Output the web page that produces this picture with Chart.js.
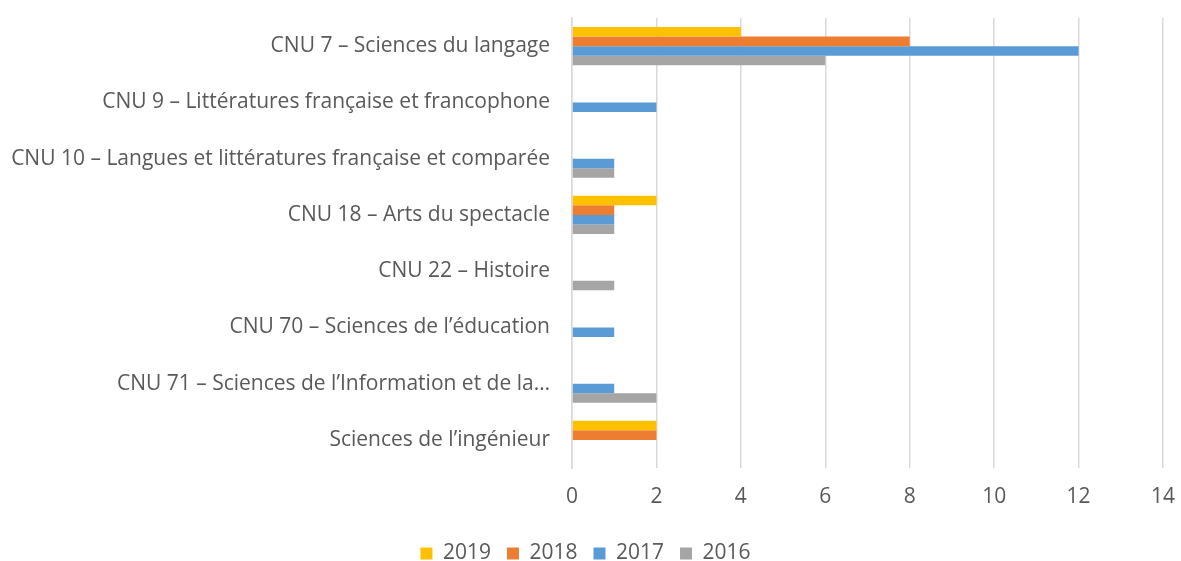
<!DOCTYPE html>
<html>
<head>
<meta charset="utf-8">
<script src="https://cdn.jsdelivr.net/npm/chart.js@4"></script>
<style>
html,body{margin:0;padding:0;background:#fff;}
#wrap{width:1181px;height:561px;position:relative;}
</style>
</head>
<body>
<div id="wrap"><canvas id="c" width="1181" height="561"></canvas></div>
<script>
const categories = [
  "CNU 7 – Sciences du langage",
  "CNU 9 – Littératures française et francophone",
  "CNU 10 – Langues et littératures française et comparée",
  "CNU 18 – Arts du spectacle",
  "CNU 22 – Histoire",
  "CNU 70 – Sciences de l’éducation",
  "CNU 71 – Sciences de l’Information et de la…",
  "Sciences de l’ingénieur"
];
const values2019 = [4, 0, 0, 2, 0, 0, 0, 2];
const values2018 = [8, 0, 0, 1, 0, 0, 0, 2];
const values2017 = [12, 2, 1, 1, 0, 1, 1, 0];
const values2016 = [6, 0, 1, 1, 1, 0, 2, 0];
const seriesNames = ["2019", "2018", "2017", "2016"];
const xTicks = [0, 2, 4, 6, 8, 10, 12, 14];

const colors = ["#FFC000", "#ED7D31", "#5B9BD5", "#A5A5A5"];
const FONT = "'Open Sans', sans-serif";
const FS = 21;
const TXT = "#595959";

new Chart(document.getElementById('c'), {
  type: 'bar',
  data: {
    labels: categories,
    datasets: [values2019, values2018, values2017, values2016].map((v, i) => ({
      label: seriesNames[i],
      data: v,
      backgroundColor: colors[i],
      borderWidth: 0,
      categoryPercentage: 0.68,
      barPercentage: 1.0
    }))
  },
  options: {
    indexAxis: 'y',
    responsive: false,
    animation: false,
    layout: { padding: { left: 8, right: 18, top: 18, bottom: 0 } },
    plugins: {
      tooltip: { enabled: false },
      legend: {
        position: 'bottom',
        maxHeight: 34,
        labels: {
          color: TXT,
          font: { family: FONT, size: FS },
          boxWidth: 12,
          boxHeight: 12,
          padding: 16
        }
      }
    },
    scales: {
      x: {
        min: 0, max: 14,
        afterBuildTicks: (s) => { s.ticks = xTicks.map(v => ({ value: v })); },
        grid: { color: "#D9D9D9", lineWidth: 1.5, drawTicks: true, tickLength: 16, tickColor: 'rgba(0,0,0,0)' },
        border: { display: false },
        ticks: { color: TXT, font: { family: FONT, size: FS }, padding: 0 },
        afterFit: (s) => { s.height = 59; }
      },
      y: {
        grid: { display: true, drawOnChartArea: false, drawTicks: true, tickLength: 22, tickColor: 'rgba(0,0,0,0)' },
        border: { display: true, color: "#D9D9D9", width: 1.5 },
        ticks: { color: TXT, font: { family: FONT, size: FS }, padding: 0, autoSkip: false },
        afterFit: (s) => { s.width = 564; }
      }
    }
  }
});
</script>
</body>
</html>
